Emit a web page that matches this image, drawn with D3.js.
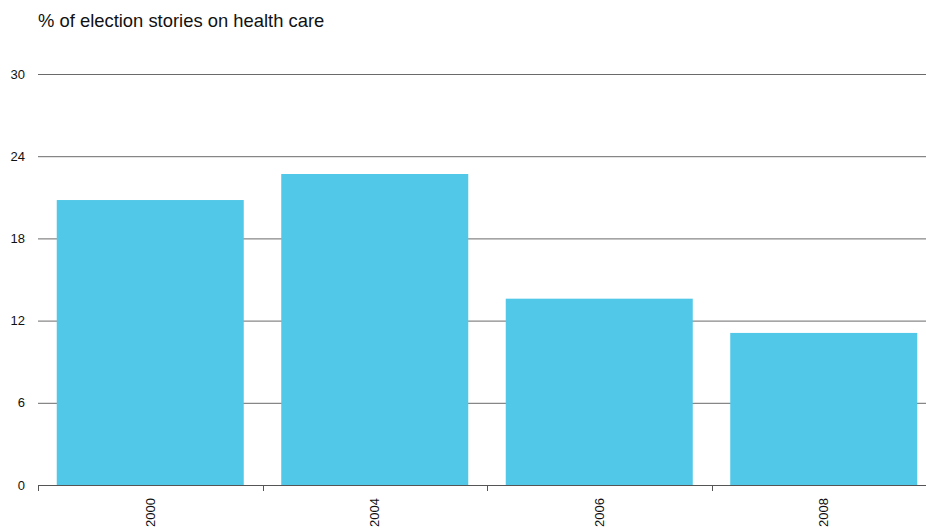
<!DOCTYPE html>
<html><head><meta charset="utf-8">
<script src="https://cdn.jsdelivr.net/npm/d3@7"></script>
<style>body{margin:0;background:#fff;font-family:"Liberation Sans",Arial,Helvetica,sans-serif;}</style>
</head><body>
<svg id="chart" width="926" height="529"></svg>
<script>
const categories = ["2000", "2004", "2006", "2008"];
const values = [20.8, 22.7, 13.6, 11.1];
const yTicks = [0, 6, 12, 18, 24, 30];
const title = "% of election stories on health care";

(function () {
const svg = d3.select("#chart");
const mLeft = 38, mRight = 926, mTop = 74, mBottom = 485;

const x = d3.scaleBand().domain(categories).range([mLeft, 936]).paddingInner(0.167).paddingOuter(0.0835);
const y = d3.scaleLinear().domain([0, 30]).range([mBottom, mTop]);

svg.append("text").attr("x", mLeft).attr("y", 27).attr("font-size", 18.4).attr("fill", "#111").text(title);

// gridlines
svg.append("g").selectAll("line").data(yTicks.filter(d => d > 0)).join("line")
  .attr("x1", mLeft).attr("x2", mRight).attr("y1", d => y(d) + 0.5).attr("y2", d => y(d) + 0.5)
  .attr("stroke", "#6a6a6a").attr("stroke-width", 1);

// y labels
svg.append("g").selectAll("text").data(yTicks).join("text")
  .attr("x", 25).attr("y", d => y(d) + 4.5).attr("text-anchor", "end")
  .attr("font-size", 13).attr("fill", "#111").text(d => d);

// bars
svg.append("g").selectAll("rect").data(values).join("rect")
  .attr("x", (d, i) => x(categories[i])).attr("width", x.bandwidth())
  .attr("y", d => y(d)).attr("height", d => mBottom - y(d))
  .attr("fill", "#51c8e8");

// x axis
const gx = svg.append("g").attr("transform", `translate(0,${mBottom})`);
gx.append("line").attr("x1", mLeft).attr("x2", mRight).attr("y1", 0.5).attr("y2", 0.5).attr("stroke", "#555");
const tickPos = [mLeft, ...categories.slice(1).map(c => x(c) - x.step() * x.paddingInner() / 2)];
gx.selectAll("line.tk").data(tickPos).join("line").attr("class", "tk")
  .attr("x1", d => Math.round(d) + 0.5).attr("x2", d => Math.round(d) + 0.5).attr("y1", 0).attr("y2", 6)
  .attr("stroke", "#555");
gx.selectAll("text").data(categories).join("text")
  .attr("transform", d => `translate(${x(d) + x.bandwidth() / 2 + 4.5},${13}) rotate(-90)`)
  .attr("text-anchor", "end").attr("font-size", 13).attr("fill", "#111").text(d => d);
})();
</script>
</body></html>
